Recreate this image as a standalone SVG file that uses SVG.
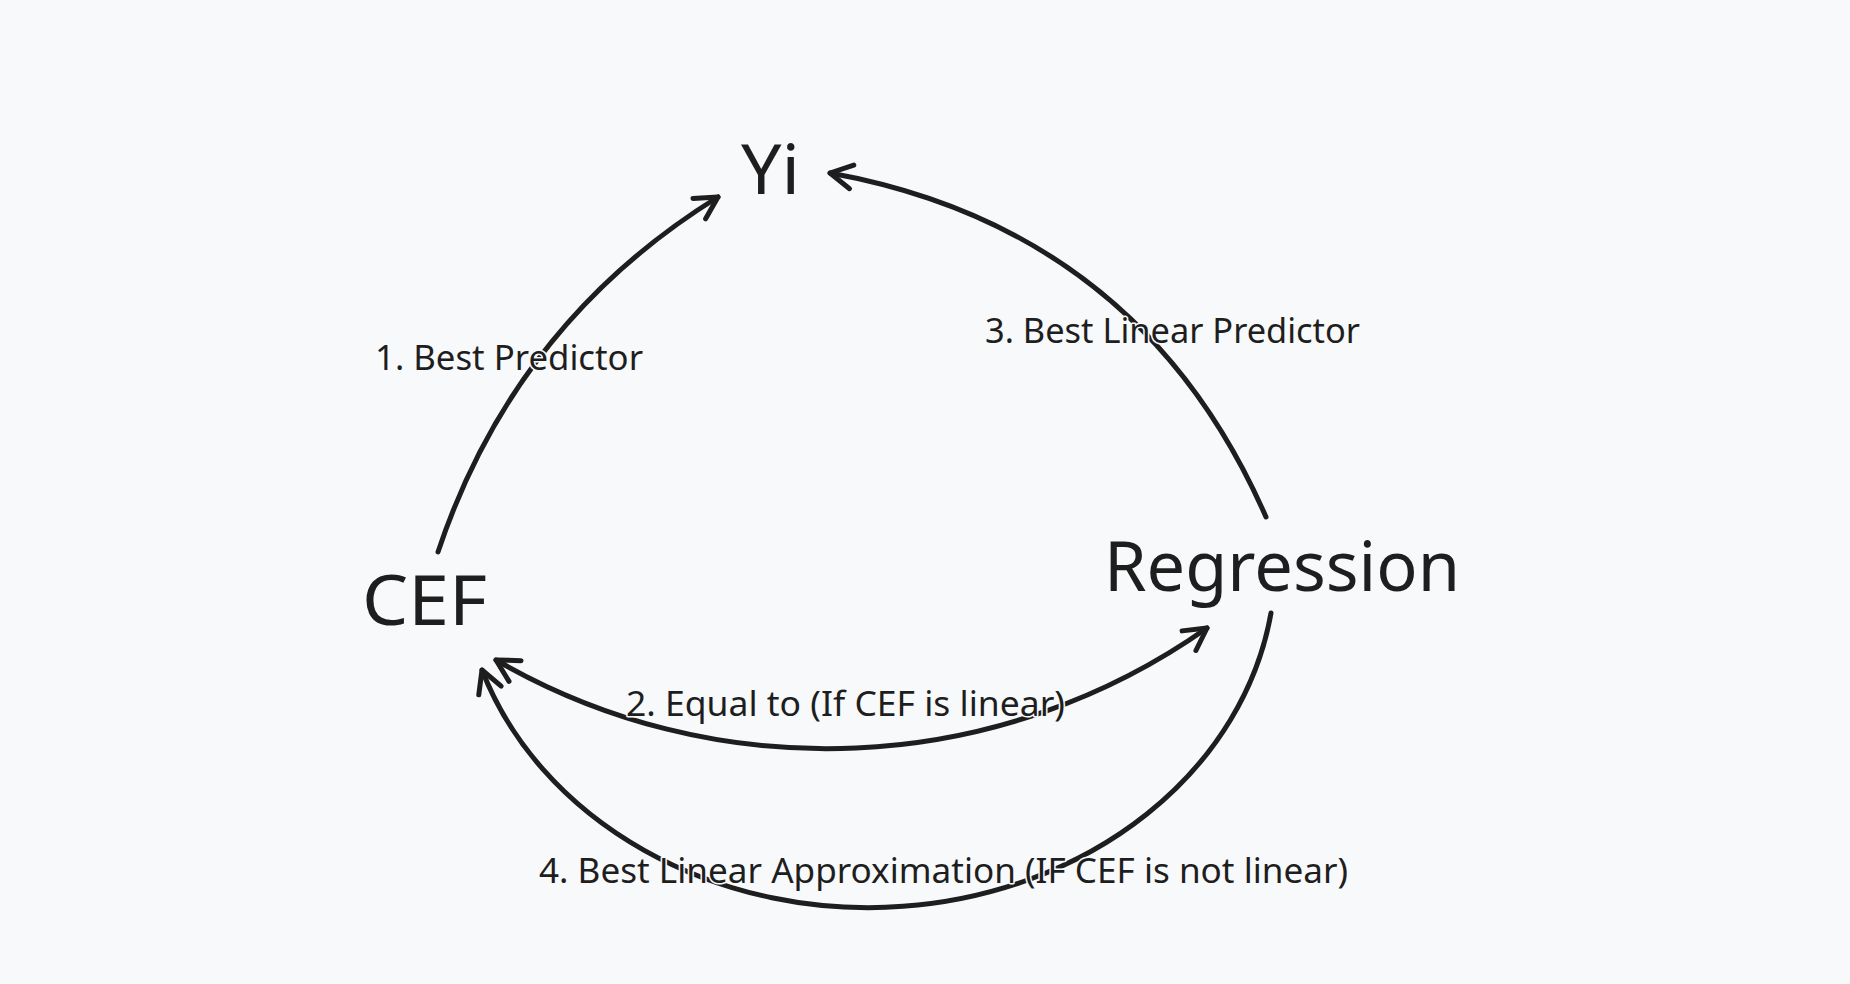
<svg xmlns="http://www.w3.org/2000/svg" width="1850" height="984" viewBox="0 0 1850 984">
  <defs>
    <style>
      .conn { fill: none; stroke: #1e1e1e; stroke-width: 5; stroke-linecap: round; stroke-linejoin: round; }
      .node { font-family: "Noto Sans", "Liberation Sans", sans-serif; font-size: 70px; fill: #1e1e1e; }
      .lbl { font-family: "Noto Sans", "Liberation Sans", sans-serif; font-size: 34px; fill: #1e1e1e; stroke: #f8f9fa; stroke-width: 3; paint-order: stroke; stroke-linejoin: round; }
    </style>
    <marker id="ah" viewBox="-30 -20 40 40" markerWidth="40" markerHeight="40" refX="0" refY="0" orient="auto-start-reverse" markerUnits="userSpaceOnUse" overflow="visible">
      <path d="M-22,-12 L0,0 L-22,12" fill="none" stroke="#1e1e1e" stroke-width="5" stroke-linecap="round" stroke-linejoin="round"/>
    </marker>
  </defs>
  <rect x="0" y="0" width="1850" height="984" fill="#f8f9fa"/>

  <g id="connectors">
    <path id="edge-cef-yi" class="conn" d="M438,552 Q514,323.5 718,197" marker-end="url(#ah)"/>
    <path id="edge-regression-yi" class="conn" d="M1266,517 Q1140,229 830,173" marker-end="url(#ah)"/>
    <path id="edge-cef-regression" class="conn" d="M496,660 A660,660 0 0 0 1207,628" marker-start="url(#ah)" marker-end="url(#ah)"/>
    <path id="edge-regression-cef" class="conn" d="M1271,613 A407,346 0 0 1 482,670" marker-end="url(#ah)"/>
  </g>

  <g id="edge-labels">
    <text class="lbl" x="375" y="370" textLength="268" lengthAdjust="spacingAndGlyphs">1. Best Predictor</text>
    <text class="lbl" x="985" y="343" textLength="375" lengthAdjust="spacingAndGlyphs">3. Best Linear Predictor</text>
    <text class="lbl" x="626" y="716" textLength="439" lengthAdjust="spacingAndGlyphs">2. Equal to (If CEF is linear)</text>
    <text class="lbl" x="539" y="883" textLength="809" lengthAdjust="spacingAndGlyphs">4. Best Linear Approximation (IF CEF is not linear)</text>
  </g>

  <g id="node-yi">
    <text class="node" x="741" y="194" textLength="59" lengthAdjust="spacingAndGlyphs">Yi</text>
  </g>
  <g id="node-cef">
    <text class="node" x="362" y="625" textLength="125" lengthAdjust="spacingAndGlyphs">CEF</text>
  </g>
  <g id="node-regression">
    <text class="node" x="1104" y="591" textLength="356" lengthAdjust="spacingAndGlyphs">Regression</text>
  </g>
</svg>
